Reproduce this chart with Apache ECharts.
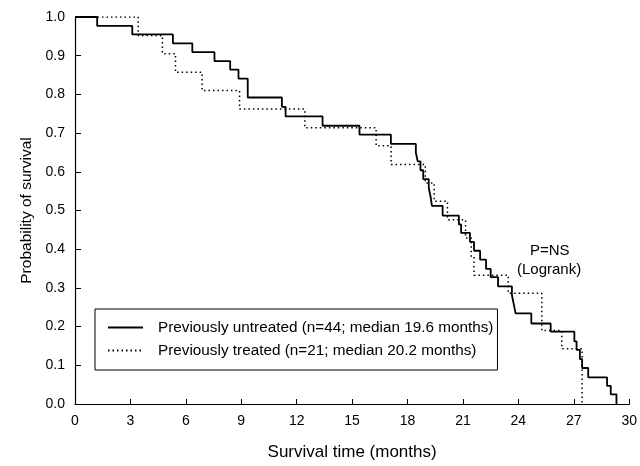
<!DOCTYPE html>
<html>
<head>
<meta charset="utf-8">
<script src="https://cdn.jsdelivr.net/npm/echarts@6/dist/echarts.min.js"></script>
<style>html,body{margin:0;padding:0;background:#fff;}#c{width:640px;height:466px;}</style>
</head>
<body>
<div id="c"></div>
<script>
// Kaplan-Meier steps: [time (months), survival probability]
var untreatedName = 'Previously untreated (n=44; median 19.6 months)';
var treatedName = 'Previously treated (n=21; median 20.2 months)';
var untreatedTimes = [0, 1.2, 3.1, 5.3, 6.35, 7.55, 8.4, 8.85, 9.35, 11.2, 11.4, 13.4, 15.4, 17.1, 18.45, 18.55, 18.7, 18.85, 19.15, 19.25, 19.32, 19.9, 20.78, 20.9, 21.38, 21.6, 21.93, 22.25, 22.5, 22.9, 23.65, 23.75, 23.85, 24.7, 25.75, 27.03, 27.15, 27.33, 27.45, 27.78, 28.8, 29.0, 29.31];
var untreatedSurv = [1.0, 0.977, 0.955, 0.932, 0.909, 0.886, 0.864, 0.841, 0.792, 0.768, 0.743, 0.719, 0.696, 0.672, 0.650, 0.627, 0.604, 0.581, 0.558, 0.535, 0.512, 0.487, 0.464, 0.442, 0.419, 0.396, 0.373, 0.349, 0.328, 0.304, 0.281, 0.258, 0.234, 0.208, 0.187, 0.162, 0.140, 0.116, 0.093, 0.069, 0.047, 0.025, 0];
var treatedTimes = [0, 3.42, 4.73, 5.44, 6.88, 8.91, 12.44, 16.3, 17.11, 18.96, 19.44, 20.16, 21.14, 21.45, 21.6, 23.45, 25.27, 26.35, 27.45];
var treatedSurv = [1.0, 0.952, 0.905, 0.857, 0.810, 0.762, 0.714, 0.667, 0.619, 0.571, 0.524, 0.476, 0.429, 0.381, 0.333, 0.286, 0.190, 0.143, 0];
var xTicks = [0, 3, 6, 9, 12, 15, 18, 21, 24, 27, 30];
var yTicks = [0, 0.1, 0.2, 0.3, 0.4, 0.5, 0.6, 0.7, 0.8, 0.9, 1.0];

function pairs(t, s) { return t.map(function (v, i) { return [v, s[i]]; }); }

var FONT = 'Liberation Sans, Arial, sans-serif';
var chart = echarts.init(document.getElementById('c'), null, {renderer: 'canvas'});
chart.setOption({
  animation: false,
  backgroundColor: '#fff',
  textStyle: {fontFamily: FONT, color: '#000'},
  grid: {left: 75, right: 7, top: 17, bottom: 58, containLabel: false},
  xAxis: {
    type: 'value', min: xTicks[0], max: xTicks[xTicks.length - 1], interval: 3,
    name: 'Survival time (months)', nameLocation: 'middle', nameGap: 40,
    nameTextStyle: {fontSize: 17, fontFamily: FONT, color: '#000'},
    axisLine: {show: true, lineStyle: {color: '#000', width: 1.2}},
    axisTick: {show: true, inside: true, length: 5, lineStyle: {color: '#000'}},
    axisLabel: {fontSize: 14, color: '#000', fontFamily: FONT, margin: 10},
    splitLine: {show: false}
  },
  yAxis: {
    type: 'value', min: yTicks[0], max: yTicks[yTicks.length - 1], interval: 0.1,
    name: 'Probability of survival', nameLocation: 'middle', nameGap: 40,
    nameTextStyle: {fontSize: 15.5, fontFamily: FONT, color: '#000'},
    axisLine: {show: true, lineStyle: {color: '#000', width: 1.2}},
    axisTick: {show: true, inside: true, length: 6, lineStyle: {color: '#000'}},
    axisLabel: {fontSize: 14, color: '#000', fontFamily: FONT, margin: 10,
      formatter: function (v) { return v.toFixed(1); }},
    splitLine: {show: false}
  },
  legend: {
    orient: 'vertical', left: 95, top: 309,
    itemWidth: 35, itemHeight: 12, itemGap: 8,
    padding: [11, 4, 12, 12],
    borderColor: '#000', borderWidth: 1,
    itemStyle: {opacity: 0},
    textStyle: {fontSize: 15.3, fontFamily: FONT, color: '#000', padding: [0, 0, 0, 10]},
    data: [untreatedName, treatedName]
  },
  series: [
    {
      name: untreatedName, type: 'line', step: 'end', symbol: 'none',
      data: pairs(untreatedTimes, untreatedSurv),
      lineStyle: {color: '#000', width: 1.8, type: 'solid'},
      itemStyle: {color: '#000'}, z: 3
    },
    {
      name: treatedName, type: 'line', step: 'end', symbol: 'none',
      data: pairs(treatedTimes, treatedSurv),
      lineStyle: {color: '#000', width: 1.5, type: [1.5, 3]},
      itemStyle: {color: '#000'}, z: 2
    }
  ],
  graphic: [
    {type: 'text', left: 530, top: 243, style: {text: 'P=NS', font: '15px ' + FONT, fill: '#000'}},
    {type: 'text', left: 517, top: 262, style: {text: '(Logrank)', font: '15px ' + FONT, fill: '#000'}}
  ]
});
</script>
</body>
</html>
